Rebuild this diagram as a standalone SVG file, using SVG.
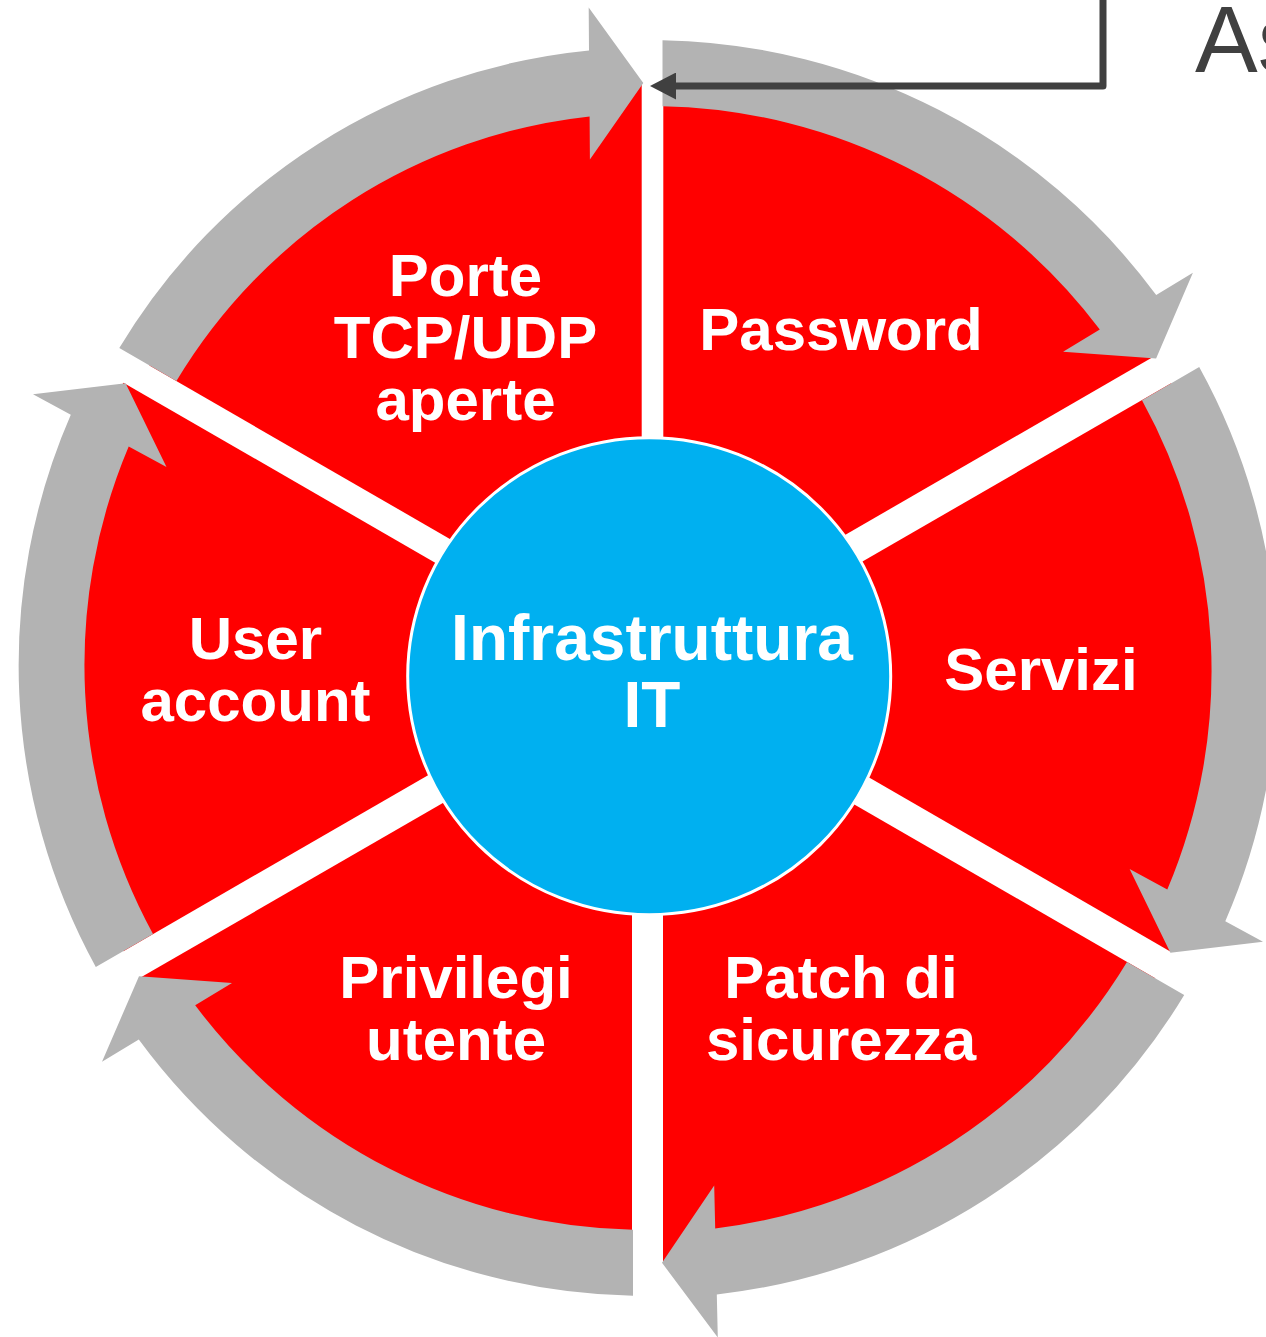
<svg xmlns="http://www.w3.org/2000/svg" width="1266" height="1337" viewBox="0 0 1266 1337">
  <defs>
    <style>
      .seg { fill: #FF0000; }
      .cyc { fill: #B3B3B3; }
      .lbl { font-family: "Liberation Sans", Arial, sans-serif; font-weight: bold; font-size: 60px; fill: #FFFFFF; text-anchor: middle; }
      .hub-lbl { font-size: 64px; }
      .callout { fill: none; stroke: #404040; stroke-width: 7; stroke-linejoin: round; }
      .note { font-family: "Liberation Sans", Arial, sans-serif; font-size: 94px; fill: #404040; }
    </style>
    <marker id="callout-head" markerUnits="userSpaceOnUse" viewBox="0 0 26 27" markerWidth="26" markerHeight="27" refX="4" refY="13.5" orient="auto">
      <path d="M0,0 L26,13.5 L0,27 Z" fill="#404040"/>
    </marker>
  </defs>

  <rect width="1266" height="1337" fill="#FFFFFF"/>

  <!-- pie segments with their labels -->
  <g id="seg-porte">
    <path class="seg" d="M641.7,649.7 L149.4,365.5 A568.5,568.5 0 0 1 641.7,81.2 Z"/>
    <text class="lbl" x="465.5" y="296">Porte</text>
    <text class="lbl" x="465.5" y="358">TCP/UDP</text>
    <text class="lbl" x="465.5" y="420">aperte</text>
  </g>
  <g id="seg-password">
    <path class="seg" d="M663.3,639.9 L663.3,71.4 A568.5,568.5 0 0 1 1155.6,355.6 Z"/>
    <text class="lbl" x="841" y="350">Password</text>
  </g>
  <g id="seg-servizi">
    <path class="seg" d="M678.8,667.6 L1171.1,383.3 A568.5,568.5 0 0 1 1171.1,951.9 Z"/>
    <text class="lbl" x="1041" y="690">Servizi</text>
  </g>
  <g id="seg-patch">
    <path class="seg" d="M663,694 L1155.3,978.3 A568.5,568.5 0 0 1 663,1262.5 Z"/>
    <text class="lbl" x="841" y="998">Patch di</text>
    <text class="lbl" x="841" y="1060">sicurezza</text>
  </g>
  <g id="seg-privilegi">
    <path class="seg" d="M632,693.8 L632,1262.3 A568.5,568.5 0 0 1 139.7,978.1 Z"/>
    <text class="lbl" x="456" y="998">Privilegi</text>
    <text class="lbl" x="456" y="1060">utente</text>
  </g>
  <g id="seg-user">
    <path class="seg" d="M615.7,666.9 L123.4,951.2 A568.5,568.5 0 0 1 123.4,382.7 Z"/>
    <text class="lbl" x="255.5" y="659">User</text>
    <text class="lbl" x="255.5" y="721">account</text>
  </g>

  <!-- circular arrows around the ring and the callout arrow -->
  <g id="connectors">
    <path class="cyc" d="M119.3,348.1 A618,618 0 0 1 589.0,50.4 L588.7,7.4 L643.3,83 L589.9,159.4 L589.6,116.4 A552,552 0 0 0 176.4,381.1 Z"/>
    <path class="cyc" d="M662.5,40.2 A628,628 0 0 1 1156.2,295.1 L1192.9,272.8 L1156.1,358.4 L1063.1,351.8 L1099.8,329.5 A562,562 0 0 0 662.5,106.2 Z"/>
    <path class="cyc" d="M1199.2,367.1 A628,628 0 0 1 1225.3,921.2 L1263.0,941.8 L1170.4,952.8 L1129.6,869.0 L1167.3,889.6 A562,562 0 0 0 1142,400.2 Z"/>
    <path class="cyc" d="M1184.2,995 A628,628 0 0 1 716.8,1294.5 L717.8,1337.5 L662,1262.8 L714.2,1185.5 L715.2,1228.5 A562,562 0 0 0 1127,962 Z"/>
    <path class="cyc" d="M633,1295.8 A628,628 0 0 1 138.8,1039.5 L102.0,1061.8 L139.0,976.2 L232.0,983.0 L195.2,1005.3 A562,562 0 0 0 633,1229.8 Z"/>
    <path class="cyc" d="M95.8,967 A628,628 0 0 1 70.8,414.8 L33.0,394.2 L125.6,383.2 L166.5,467.0 L128.7,446.4 A562,562 0 0 0 153,934 Z"/>
    <path class="callout" d="M1103,0 V86 H672" marker-end="url(#callout-head)"/>
  </g>

  <!-- hub -->
  <g id="hub">
    <ellipse cx="649.2" cy="676.2" rx="241.5" ry="238.5" fill="#00B0F0" stroke="#FFFFFF" stroke-width="3"/>
    <text class="lbl hub-lbl" x="652" y="660">Infrastruttura</text>
    <text class="lbl hub-lbl" x="652" y="727">IT</text>
  </g>

  <text class="note" x="1195" y="72">As</text>
</svg>
